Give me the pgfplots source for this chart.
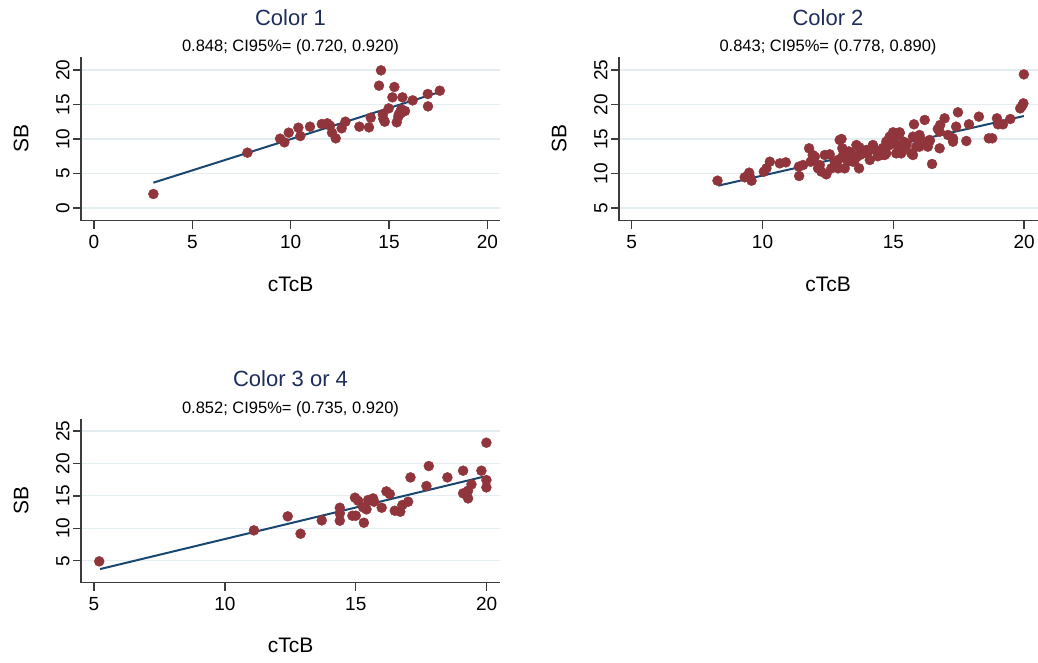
\documentclass[border=0pt]{standalone}
\usepackage{fontspec}
\setmainfont{Liberation Sans}
\usepackage{pgfplots}
\pgfplotsset{compat=1.18}
\definecolor{cranb}{RGB}{144,53,59}
\definecolor{navyl}{RGB}{26,71,111}
\definecolor{ttl}{RGB}{30,45,90}
\definecolor{gridc}{RGB}{228,237,240}
\definecolor{axc}{RGB}{60,60,60}
\pgfplotsset{
 stpanel/.style={
  scale only axis, width=419pt, height=164pt, anchor=south west,
  axis x line*=bottom, axis y line*=left,
  axis line style={-, axc, line width=1.3pt},
  every outer x axis line/.append style={-},
  every outer y axis line/.append style={-},
  tick style={axc, line width=1.3pt},
  major tick length=8pt, tick align=outside,
  ymajorgrids, grid style={gridc, line width=1.2pt},
  /pgf/number format/assume math mode=true,
  ticklabel style={font=\fontsize{19}{19}\selectfont},
  xticklabel style={yshift=-3pt},
  yticklabel style={rotate=90, anchor=south},
  clip=false,
 },
 scat/.style={only marks, mark=*, mark size=5pt, color=cranb, mark options={fill=cranb, draw=cranb}},
 fitl/.style={no marks, navyl, line width=2pt},
}
\begin{document}
\begin{tikzpicture}
\useasboundingbox (0pt,0pt) rectangle (1038pt,-663pt);
% Panel 1
\begin{axis}[stpanel, at={(81pt,-220.7pt)}, xmin=-0.66, xmax=20.64, ymin=-1.84, ymax=21.93,
  xtick={0,5,10,15,20}, ytick={0,5,10,15,20}]
\addplot[scat] coordinates {
(3.02,2.03) (7.80,8.02) (9.46,10.05) (9.68,9.52) (9.90,10.92) (10.39,11.64) (10.49,10.43)
(10.98,11.79) (11.58,12.17) (11.86,12.27) (12.00,11.93) (12.10,10.92) (12.29,10.10)
(12.59,11.55) (12.78,12.51) (13.49,11.79) (13.98,11.69) (14.07,13.09) (14.49,17.73)
(14.59,19.95) (14.68,13.57) (14.71,12.90) (14.78,12.51) (14.98,14.44) (15.17,16.04)
(15.27,17.54) (15.39,12.42) (15.47,13.24) (15.59,13.72) (15.68,16.04) (15.73,14.06)
(15.81,14.06) (15.50,13.60) (15.62,14.30) (16.20,15.60) (16.97,16.52) (16.98,14.73) (17.58,17.00)
};
\addplot[fitl] coordinates {(3.02,3.67) (17.46,16.71)};
\end{axis}
% Panel 2
\begin{axis}[stpanel, at={(619pt,-220.7pt)}, xmin=4.515, xmax=20.53, ymin=3.16, ymax=26.93,
  xtick={5,10,15,20}, ytick={5,10,15,20,25}]
\addplot[scat] coordinates {
(8.28,8.96) (9.32,9.45) (9.49,10.12) (9.52,9.54) (9.58,8.96) (10.05,10.26) (10.15,10.75)
(10.28,11.71) (10.66,11.47) (10.89,11.62) (11.39,10.99) (11.40,9.64) (11.55,11.23)
(11.78,13.65) (11.84,11.71) (11.93,11.96) (11.92,12.68) (12.00,12.44) (12.12,10.75)
(12.19,11.23) (12.25,10.27) (12.38,12.68) (12.44,9.88) (12.57,12.78) (12.63,10.75)
(12.76,11.71) (12.82,11.23) (12.89,10.75) (12.95,14.86) (13.02,15.0) (13.05,13.65)
(13.08,12.68) (13.14,10.75) (13.12,12.5) (13.20,12.2) (13.27,12.92) (13.27,11.71)
(13.40,12.92) (13.46,11.71) (13.52,11.96) (13.59,14.13) (13.69,10.75) (13.70,13.8)
(13.72,12.68) (13.84,12.92) (13.97,13.41) (14.03,13.41) (14.10,11.96) (14.22,14.13)
(14.29,13.41) (14.41,13.16) (14.48,12.92) (14.54,12.68) (14.67,12.68) (14.73,14.61)
(14.73,12.92) (14.86,15.34) (14.86,14.13) (14.98,15.1) (14.99,15.97) (15.05,14.37)
(15.11,12.92) (15.11,15.82) (15.18,15.58) (15.24,15.97) (15.18,14.0) (15.30,12.92)
(15.37,13.55) (15.50,14.37) (15.50,14.13) (15.69,12.92) (15.75,15.34) (15.75,12.68)
(15.79,17.13) (15.88,13.89) (15.94,15.1) (16.00,15.58) (16.00,13.89) (16.20,17.76)
(16.26,14.61) (16.32,13.89) (16.39,14.71) (16.48,11.38) (16.70,16.45) (16.77,13.65)
(16.77,16.06) (16.79,17.03) (16.96,18.0) (17.09,15.58) (17.28,14.61) (17.28,15.1)
(17.40,16.79) (17.47,18.87) (17.79,14.71) (17.89,17.13) (18.27,18.24) (18.65,15.10)
(18.78,15.10) (18.96,18.0) (19.00,17.13) (19.19,17.13) (19.47,17.9) (19.85,19.44)
(19.92,19.8) (19.97,20.17) (19.99,24.37)
(13.3,13.2) (14.0,12.9) (14.4,12.5) (14.6,13.7) (15.4,14.6) (12.9,12.0) (13.6,12.4)
(16.39,14.86) (16.0,15.33) (15.24,15.82) (14.22,14.0)
};
\addplot[fitl] coordinates {(8.31,8.24) (19.99,18.33)};
\end{axis}
% Panel 3
\begin{axis}[stpanel, at={(81pt,-582.7pt)}, xmin=4.503, xmax=20.51, ymin=1.61, ymax=26.9,
  xtick={5,10,15,20}, ytick={5,10,15,20,25}]
\addplot[scat] coordinates {
(5.2,4.9) (11.11,9.68) (12.4,11.84) (12.89,9.16) (13.7,11.22) (14.39,13.17) (14.39,12.3)
(14.39,11.17) (14.87,11.94) (15.0,11.94) (14.97,14.72) (15.09,14.25) (15.28,13.23)
(15.31,10.86) (15.41,12.92) (15.47,14.36) (15.66,14.61) (15.7,14.1) (15.99,13.17)
(16.17,15.69) (16.3,15.28) (16.49,12.71) (16.7,12.56) (16.78,13.59) (17.0,14.1)
(17.09,17.85) (17.7,16.52) (17.79,19.6) (18.5,17.85) (19.1,15.39) (19.1,18.88)
(19.29,15.8) (19.29,14.61) (19.42,16.77) (19.8,18.88) (19.99,17.44) (19.99,16.31) (19.99,23.2)
};
\addplot[fitl] coordinates {(5.23,3.71) (19.89,17.96)};
\end{axis}
% Titles and labels
\tikzset{ttlf/.style={anchor=base, text=ttl, font=\fontsize{22}{22}\selectfont},
 subf/.style={anchor=base, font=\fontsize{16.5}{16.5}\selectfont},
 labf/.style={anchor=base, font=\fontsize{21}{21}\selectfont}}
\node[ttlf] at (290.5pt,-25.7pt) {Color 1};
\node[subf] at (290.5pt,-52pt) {0.848; CI95\%= (0.720, 0.920)};
\node[ttlf] at (828pt,-25.7pt) {Color 2};
\node[subf] at (828pt,-52pt) {0.843; CI95\%= (0.778, 0.890)};
\node[ttlf] at (290.5pt,-386pt) {Color 3 or 4};
\node[subf] at (290.5pt,-413pt) {0.852; CI95\%= (0.735, 0.920)};
\node[labf] at (290.5pt,-291pt) {cTcB};
\node[labf] at (828pt,-291pt) {cTcB};
\node[labf] at (290.5pt,-652pt) {cTcB};
\node[labf, rotate=90] at (28.3pt,-138.7pt) {SB};
\node[labf, rotate=90] at (566.3pt,-138.7pt) {SB};
\node[labf, rotate=90] at (28.3pt,-500.7pt) {SB};
\end{tikzpicture}
\end{document}
